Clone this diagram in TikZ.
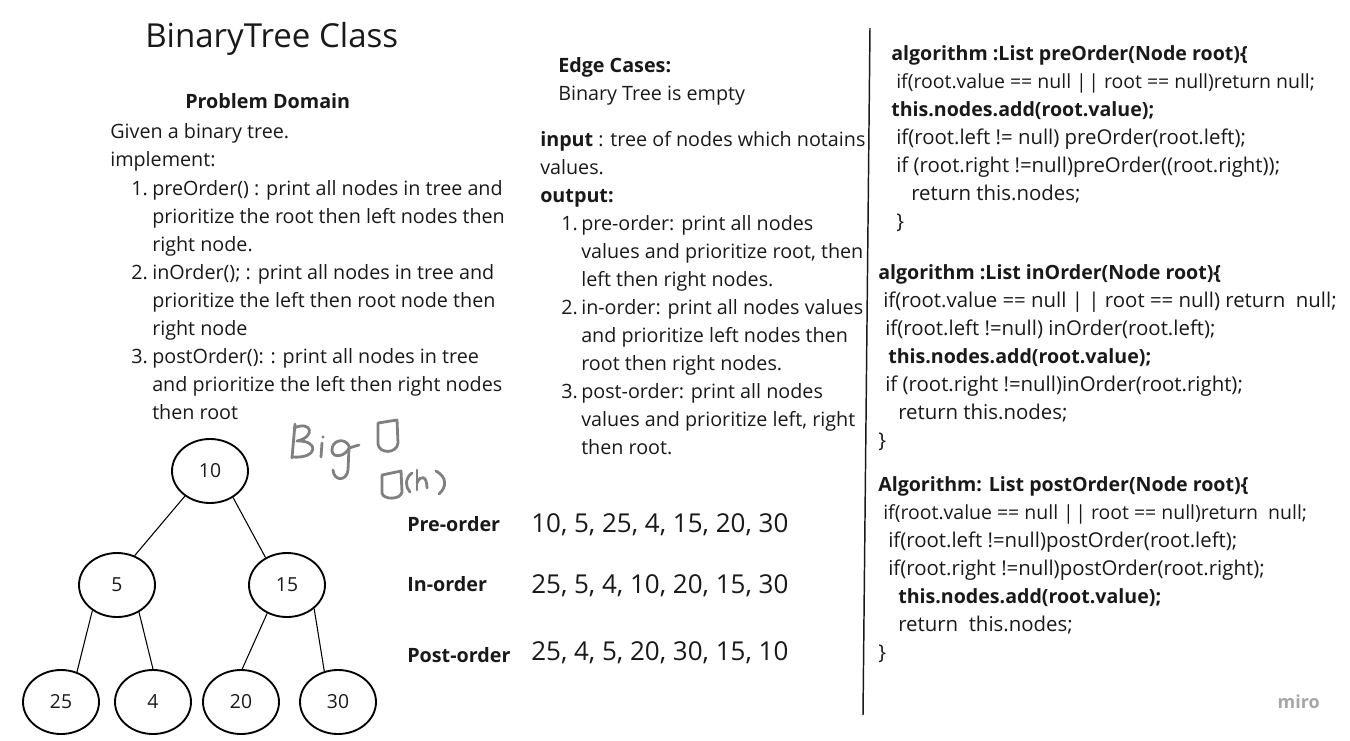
\documentclass[tikz,border=0pt]{standalone}
\usepackage{fontspec}
\setmainfont{Open Sans}
\usetikzlibrary{shapes.geometric}
\colorlet{ink}{black!90}
\colorlet{pen}{black!50}
\newcommand{\cb}[1]{{\fontsize{14.7}{21}\selectfont\bfseries #1}}

\begin{document}
\begin{tikzpicture}[x=0.75pt, y=-0.75pt, text=ink,
    txt/.style={anchor=base west, inner sep=0, align=left, font=\fontsize{14.8}{21}\selectfont},
    lab/.style={anchor=base west, inner sep=0, font=\bfseries\fontsize{14.8}{21}\selectfont},
    code/.style={anchor=base west, inner sep=0, align=left, font=\fontsize{15.3}{21}\selectfont},
    seq/.style={anchor=base west, inner sep=0, font=\fontsize{19.5}{24}\selectfont},
    tnode/.style={draw, ellipse, line width=1.4pt, minimum width=57pt, minimum height=48pt, inner sep=0, font=\fontsize{14.5}{16}\selectfont},
    edge/.style={line width=0.8pt},
    hand/.style={pen, line width=2.1pt, line cap=round, line join=round}]
    \useasboundingbox (0, 0) rectangle (1350, 740);

    % title and problem domain (multi-line nodes sit on their last line)
    \node [anchor=base west, inner sep=0, font=\fontsize{24.8}{30}\selectfont] (title) at (145, 47) {BinaryTree Class};
    \node [lab] (pdhead) at (185, 108) {Problem Domain};
    \node [txt] (given) at (110, 166) {Given a binary tree.\\implement:};
    \node [txt] (pdone) at (131, 195) {1.};
    \node [txt] (pdonet) at (152, 251) {preOrder() : print all nodes in tree and\\prioritize the root then left nodes then\\right node.};
    \node [txt] (pdtwo) at (131, 279) {2.};
    \node [txt] (pdtwot) at (152, 335) {inOrder(); : print all nodes in tree and\\prioritize the left then root node then\\right node};
    \node [txt] (pdthree) at (131, 363) {3.};
    \node [txt] (pdthreet) at (152, 419) {postOrder(): : print all nodes in tree\\and prioritize the left then right nodes\\then root};

    % edge cases, input, output
    \node [txt] (edge) at (558, 100) {\textbf{Edge Cases:}\\Binary Tree is empty};
    \node [txt] (input) at (540, 202) {\textbf{input} : tree of nodes which notains\\values.\\\textbf{output:}};
    \node [txt] (outone) at (561, 230) {1.};
    \node [txt] (outonet) at (581, 286) {pre-order: print all nodes\\values and prioritize root, then\\left then right nodes.};
    \node [txt] (outtwo) at (561, 314) {2.};
    \node [txt] (outtwot) at (581, 370) {in-order: print all nodes values\\and prioritize left nodes then\\root then right nodes.};
    \node [txt] (outthree) at (561, 398) {3.};
    \node [txt] (outthreet) at (581, 454) {post-order: print all nodes\\values and prioritize left, right\\then root.};

    % separator
    \draw [line width=1.1pt, ink] (870, 28) -- (863, 715);

    % algorithms
    \node [code] (pre) at (891, 228) {\cb{algorithm :List preOrder(Node root)\{}\\
        \hspace*{3.75pt}{\fontsize{14.6}{21}\selectfont if(root.value == null |\kern1pt| root == null)return null;}\\
        \cb{this.nodes.add(root.value);}\\
        \hspace*{3.75pt}if(root.left != null) preOrder(root.left);\\
        \hspace*{3.75pt}if (root.right !=null)preOrder((root.right));\\
        \hspace*{15pt}return this.nodes;\\
        \hspace*{3.75pt}\}};
    \node [code] (in) at (878, 447) {\cb{algorithm :List inOrder(Node root)\{}\\
        \hspace*{3.75pt}if(root.value == null | | root == null) return \ null;\\
        \hspace*{5.25pt}if(root.left !=null) inOrder(root.left);\\
        \hspace*{7.5pt}\cb{this.nodes.add(root.value);}\\
        \hspace*{5.25pt}if (root.right !=null)inOrder(root.right);\\
        \hspace*{15pt}return this.nodes;\\
        \}};
    \node [code] (post) at (878, 659) {\cb{Algorithm: List postOrder(Node root)\{}\\
        \hspace*{3.75pt}{\fontsize{14.6}{21}\selectfont if(root.value == null |\kern1pt| root == null)return \ null;}\\
        \hspace*{7.5pt}if(root.left !=null)postOrder(root.left);\\
        \hspace*{7.5pt}if(root.right !=null)postOrder(root.right);\\
        \hspace*{15pt}\cb{this.nodes.add(root.value);}\\
        \hspace*{15pt}return \ this.nodes;\\
        \}};
    \node [anchor=base east, inner sep=0, text=black!35, font=\bfseries\fontsize{13.5}{16}\selectfont] (miro) at (1320, 708) {miro};

    % traversals
    \node [lab] (prelab) at (407, 531) {Pre-order};
    \node [seq] (preseq) at (531, 532) {10, 5, 25, 4, 15, 20, 30};
    \node [lab] (inlab) at (407, 591) {In-order};
    \node [seq] (inseq) at (531, 593) {25, 5, 4, 10, 20, 15, 30};
    \node [lab] (postlab) at (407, 662) {Post-order};
    \node [seq] (postseq) at (531, 660) {25, 4, 5, 20, 30, 15, 10};

    % tree
    \node [tnode] (n10) at (210, 471) {10};
    \node [tnode] (n5) at (117, 585) {5};
    \node [tnode] (n15) at (287, 585) {15};
    \node [tnode] (n25) at (61, 702) {25};
    \node [tnode] (n4) at (153, 702) {4};
    \node [tnode] (n20) at (241, 702) {20};
    \node [tnode] (n30) at (338, 702) {30};
    \draw [edge] (n10.225) -- (n5.59);
    \draw [edge] (n10.-49) -- (n15.128);
    \draw [edge] (n5.226) -- (n25.62);
    \draw [edge] (n5.-51) -- (n4.90);
    \draw [edge] (n15.235) -- (n20.88);
    \draw [edge] (n15.-41) -- (n30.114);

    % big o, by hand
    \draw [hand] (295, 424) -- (292, 458);
    \draw [hand] (294, 428) .. controls (312, 420) and (316, 437) .. (297, 441) .. controls (319, 440) and (319, 459) .. (292, 457);
    \draw [hand] (322, 443) -- (321, 457);
    \fill [pen] (323, 437) circle (1.3pt);
    \draw [hand] (349, 446) .. controls (345, 437) and (331, 440) .. (332, 451) .. controls (333, 459) and (346, 456) .. (349, 448) -- (359, 445);
    \draw [hand] (349, 448) -- (348, 470) .. controls (347, 481) and (334, 482) .. (333, 470);
    \draw [hand] (378, 423) -- (378, 444) .. controls (379, 454) and (397, 454) .. (398, 443) -- (397, 420) -- cycle;
    \draw [hand] (382, 475) -- (382, 493) .. controls (383, 500) and (401, 500) .. (402, 492) -- (401, 471) -- cycle;
    \draw [hand] (412, 473) .. controls (405, 478) and (405, 487) .. (410, 492);
    \draw [hand] (417, 470) -- (417, 490);
    \draw [hand] (417, 483) .. controls (420, 475) and (427, 475) .. (427, 488);
    \draw [hand] (436, 471) .. controls (447, 477) and (447, 487) .. (439, 494);
\end{tikzpicture}
\end{document}
